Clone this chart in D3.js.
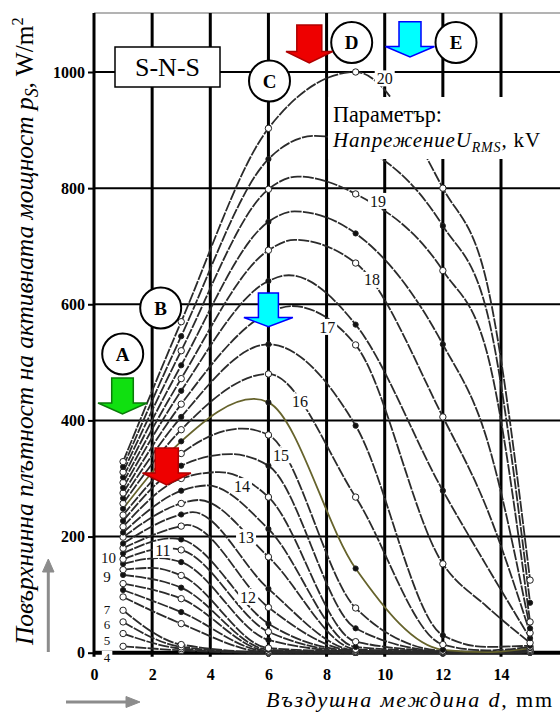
<!DOCTYPE html>
<html><head><meta charset="utf-8">
<script src="https://cdn.jsdelivr.net/npm/d3@7"></script>
<style>
html,body{margin:0;padding:0;background:#fff;}
svg{display:block;font-family:"Liberation Serif","Times New Roman",serif;}
</style></head><body>
<svg id="chart" width="560" height="713"></svg>
<script>
// Supply voltage of each curve, kV
const voltages = [4,5,6,7,8,8.5,9,9.5,10,10.5,11,11.5,12,12.5,13,13.5,14,14.5,15,15.5,16,16.5,17,17.5,18,18.5,19,19.5,20];
// Air gaps d (mm) at which the power density was measured (marked points)
const gaps = [1,3,6,9,12,15];
// Surface active power density p_S, W/m², for every curve at each measured gap
const psAt1  = [11,33,53,73,96,108,119,134,143,153,161,171,180,188,199,207,217,227,237,248,257,266,275,284,293,302,311,320,329];
const psAt3  = [4,7,10,14,50,70,93,112,133,156,177,195,218,238,257,279,300,322,343,364,384,406,428,451,472,495,520,545,570];
const psAt6  = [0,0,0,1,1,2,3,5,8,22,36,50,78,110,165,213,268,322,375,431,480,531,585,640,693,742,798,850,903];
const psAt9  = [0,0,0,1,1,1,1,1,2,2,2,3,3,4,6,10,19,42,77,145,268,391,530,565,671,722,790,875,1000];
const psAt12 = [0,0,0,0,0,0,1,1,1,1,1,1,1,1,1,2,2,2,3,5,14,30,153,279,406,531,658,735,800];
const psAt15 = [1,1,1,1,1,1,1,2,2,2,2,2,2,2,3,3,4,5,6,8,10,12,17,25,34,42,53,86,125];
// Unmarked readings on the falling tails at d = 13.5 mm
const psAt13_5 = [0,0,0,0,0,0,0,0,0,0,0,0,0,0,0,0,0,0,1,1,4,10,80,150,250,370,520,590,640];
// Curve maxima lying between measured gaps (null: maximum is on a marked point)
const peakGap = [null,null,null,null,null,null,null,null,2.0,2.2,2.5,2.7,3.2,3.4,3.6,3.9,4.3,4.7,5.1,5.5,null,null,6.8,6.7,6.9,6.9,7.0,7.6,null];
const peakPs  = [null,null,null,null,null,null,null,null,146,163,180,197,220,242,263,288,311,342,386,437,null,null,597,650,711,760,820,890,null];
// Axis ticks
const xTicks = [0,2,4,6,8,10,12,14];
const yTicks = [0,200,400,600,800,1000];
const highlighted = 15.5; // curve drawn in olive

const svg = d3.select("#chart");
const X0 = 94, XR = 560, YT = 13;
const x = d3.scaleLinear().domain([0,14]).range([94,501]);
const y = d3.scaleLinear().domain([0,1000]).range([652.7,72]);
const Y0 = y(0);

svg.append("defs").append("clipPath").attr("id","plot")
  .append("rect").attr("x",X0).attr("y",YT).attr("width",XR-X0).attr("height",Y0-YT+3);

// frame and grid
svg.append("line").attr("x1",X0).attr("x2",XR).attr("y1",YT).attr("y2",YT)
  .attr("stroke","#9a9a9a").attr("stroke-width",1.5);
const grid = svg.append("g");
grid.selectAll("line.h").data(yTicks.filter(v=>v>0)).join("line")
  .attr("x1",X0).attr("x2",XR).attr("y1",d=>y(d)).attr("y2",d=>y(d))
  .attr("stroke","#000").attr("stroke-width",2);
grid.selectAll("line.v").data(xTicks).join("line")
  .attr("x1",d=>x(d)).attr("x2",d=>x(d)).attr("y1",YT).attr("y2",Y0+4)
  .attr("stroke","#000").attr("stroke-width",3);
grid.append("line").attr("x1",X0).attr("x2",XR).attr("y1",Y0).attr("y2",Y0)
  .attr("stroke","#000").attr("stroke-width",4);

// axes (tick labels)
const yAxis = svg.append("g").attr("transform",`translate(${X0},0)`)
  .call(d3.axisLeft(y).tickValues(yTicks).tickSize(6).tickPadding(3).tickFormat(d3.format("d")));
yAxis.select(".domain").remove();
yAxis.selectAll(".tick line").attr("stroke","#000").attr("stroke-width",2);
yAxis.selectAll("text").attr("font-family","Liberation Serif").attr("font-weight","bold")
  .attr("font-size",16).attr("fill","#000");
const xAxis = svg.append("g").attr("transform",`translate(0,${Y0})`)
  .call(d3.axisBottom(x).tickValues(xTicks).tickSize(0).tickPadding(16).tickFormat(d3.format("d")));
xAxis.select(".domain").remove();
xAxis.selectAll("text").attr("font-family","Liberation Serif").attr("font-weight","bold")
  .attr("font-size",16).attr("fill","#000");

// curves
const curves = voltages.map((v,i)=>{
  const pts = [[1,psAt1[i]],[3,psAt3[i]],[6,psAt6[i]],[9,psAt9[i]],[12,psAt12[i]],[13.5,psAt13_5[i]],[15,psAt15[i]]];
  if (peakGap[i]!==null) pts.push([peakGap[i],peakPs[i]]);
  pts.sort((a,b)=>a[0]-b[0]);
  const marks = [psAt1[i],psAt3[i],psAt6[i],psAt9[i],psAt12[i],psAt15[i]].map((p,k)=>[gaps[k],p]);
  return {v, pts, marks};
});
const line = d3.line().x(d=>x(d[0])).y(d=>y(d[1])).curve(d3.curveMonotoneX);
const cg = svg.append("g").attr("clip-path","url(#plot)");
cg.selectAll("path").data(curves).join("path")
  .attr("d",d=>line(d.pts)).attr("fill","none")
  .attr("stroke",d=>d.v===highlighted?"#66632c":"#2b2b2b")
  .attr("stroke-width",1.8)
  .attr("stroke-dasharray",d=>d.v===highlighted?null:"11 1.3");
const mg = cg.append("g");
curves.forEach(c=>{
  const open = Number.isInteger(c.v);
  mg.selectAll(null).data(c.marks).join("circle")
    .attr("cx",d=>x(d[0])).attr("cy",d=>y(d[1]))
    .attr("r",open?3.2:2.6)
    .attr("fill",open?"#fff":"#111")
    .attr("stroke","#222").attr("stroke-width",1);
});

// curve labels (voltage, kV) with white backing
const curveLabels = [
  {t:"20",d:10.0,p:989,s:16},{t:"19",d:9.77,p:778,s:16},{t:"18",d:9.56,p:642,s:16},{t:"17",d:8.02,p:561,s:16},
  {t:"16",d:7.09,p:433,s:16},{t:"15",d:6.43,p:340,s:16},{t:"14",d:5.09,p:287,s:16},{t:"13",d:5.23,p:199,s:16},
  {t:"12",d:5.30,p:96,s:16},{t:"11",d:2.37,p:177,s:16},{t:"10",d:0.5,p:163,s:15},{t:"9",d:0.45,p:130,s:15},
  {t:"7",d:0.45,p:75,s:13},{t:"6",d:0.45,p:48,s:13},{t:"5",d:0.45,p:21,s:13},{t:"4",d:0.45,p:-8,s:13}
];
const lg = svg.append("g");
curveLabels.forEach(l=>{
  const w = l.t.length*l.s*0.5+4, h = l.s;
  lg.append("rect").attr("x",x(l.d)-w/2).attr("y",y(l.p)-h/2).attr("width",w).attr("height",h).attr("fill","#fff");
  lg.append("text").attr("x",x(l.d)).attr("y",y(l.p)).attr("dy","0.35em")
    .attr("text-anchor","middle").attr("font-size",l.s).attr("fill","#111").text(l.t);
});

// helpers to size a text run to a given length
function fitSize(sel, target){
  const fs = +sel.attr("font-size");
  sel.attr("font-size", fs*target/sel.node().getComputedTextLength());
}
function fitSpacing(sel, target){
  const len = sel.node().getComputedTextLength();
  const n = sel.text().length;
  sel.attr("letter-spacing", ((target-len)/n).toFixed(2));
}

// parameter note
svg.append("rect").attr("x",328).attr("y",97).attr("width",220).attr("height",62).attr("fill","#fff");
const t1 = svg.append("text").attr("x",333).attr("y",122).attr("font-size",21).attr("fill","#000").text("Параметър:");
fitSize(t1,109);
const t2 = svg.append("text").attr("x",333).attr("y",147).attr("font-size",21).attr("fill","#000");
t2.append("tspan").attr("font-style","italic").text("НапрежениеU");
t2.append("tspan").attr("font-style","italic").attr("font-size",14).attr("dy",5).text("RMS");
t2.append("tspan").attr("dy",-5).text(", kV");
fitSpacing(t2,208);

// S-N-S configuration box
svg.append("rect").attr("x",115).attr("y",47).attr("width",105).attr("height",40)
  .attr("fill","#fff").attr("stroke","#000").attr("stroke-width",1.5);
svg.append("text").attr("x",167.5).attr("y",67).attr("dy","0.35em").attr("text-anchor","middle")
  .attr("font-size",26).attr("fill","#000").text("S-N-S");

// operating regions
const regions = [{t:"A",cx:122.7,cy:354},{t:"B",cx:160.7,cy:308},{t:"C",cx:269.5,cy:81},{t:"D",cx:351.7,cy:42.5},{t:"E",cx:456,cy:42.5}];
regions.forEach(r=>{
  svg.append("circle").attr("cx",r.cx).attr("cy",r.cy).attr("r",20.5).attr("fill","#fff").attr("stroke","#000").attr("stroke-width",2);
  svg.append("text").attr("x",r.cx).attr("y",r.cy).attr("dy","0.36em").attr("text-anchor","middle")
    .attr("font-size",19).attr("font-weight","bold").attr("fill","#000").text(r.t);
});

// block arrows
function arrow(cx, sw, y0, y1, hw, y2, fill, stroke){
  const p = [[cx-sw,y0],[cx+sw,y0],[cx+sw,y1],[cx+hw,y1],[cx,y2],[cx-hw,y1],[cx-sw,y1]];
  svg.append("path").attr("d","M"+p.map(q=>q.join(",")).join("L")+"Z")
    .attr("fill",fill).attr("stroke",stroke).attr("stroke-width",1.5).attr("stroke-linejoin","miter");
}
arrow(122.5,10.8,378,403,24.5,414,"#10e010","#0a7a0a");
arrow(166.7,11.6,448,473,24.2,485,"#ee0000","#b00000");
arrow(309.3,12.5,25,51.5,23.3,63,"#ee0000","#b00000");
arrow(410,11,21.7,46.5,24.5,57,"#00ffff","#0000ff");
arrow(268.4,10,293,317.5,24.5,326.7,"#00ffff","#0000ff");

// axis titles
const yt = svg.append("text").attr("transform","translate(33,645) rotate(-90)").attr("font-size",26).attr("fill","#000");
yt.append("tspan").attr("font-style","italic").text("Повърхнинна плътност на активната мощност p");
yt.append("tspan").attr("font-style","italic").attr("font-size","70%").attr("dy",5).text("S");
yt.append("tspan").attr("dy",-5).text(", W/m");
yt.append("tspan").attr("font-size","65%").attr("dy",-10).text("2");
fitSize(yt,628);
const xt = svg.append("text").attr("x",266).attr("y",707).attr("font-size",22).attr("fill","#000");
xt.append("tspan").attr("font-style","italic").text("Въздушна междина d");
xt.append("tspan").text(", mm");
fitSpacing(xt,288);

// direction arrows
const ga = svg.append("g").attr("stroke","#8c8c8c").attr("fill","#8c8c8c");
ga.append("line").attr("x1",48.3).attr("x2",48.3).attr("y1",652).attr("y2",572).attr("stroke-width",3);
ga.append("path").attr("d","M42.5,572L54,572L48.3,559Z").attr("stroke-width",1);
ga.append("line").attr("x1",66).attr("x2",126).attr("y1",702).attr("y2",702).attr("stroke-width",3);
ga.append("path").attr("d","M126,696.5L126,707.5L140,702Z").attr("stroke-width",1);
</script>
</body></html>
